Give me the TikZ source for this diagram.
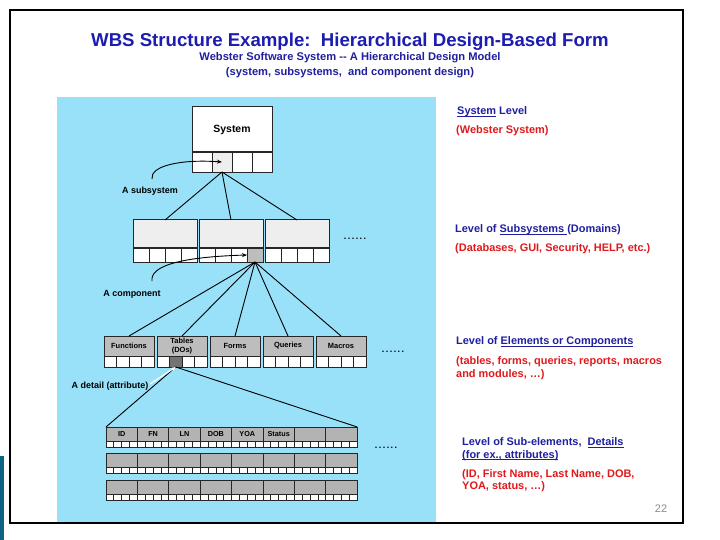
\documentclass[tikz,border=0pt]{standalone}
\usepackage{fontspec}
\setmainfont{Liberation Sans}
\usetikzlibrary{arrows.meta}
\definecolor{bgblue}{HTML}{99E1F9}
\definecolor{titleblue}{HTML}{1C1CB0}
\definecolor{headblue}{HTML}{1F1F9F}
\definecolor{headred}{HTML}{E0191C}
\definecolor{tealbar}{HTML}{0B6485}
\definecolor{subgray}{HTML}{EEEEEE}
\definecolor{compgray}{HTML}{BDBDBD}
\definecolor{detgray}{HTML}{B3B3B3}
\newcommand\ulx[1]{\leavevmode\setbox0\hbox{#1}\rlap{\rule[-1.8pt]{\wd0}{0.9pt}}\box0\relax}
\newcommand\wbsbox[8]{%
  \node[topbox,fill=#7,minimum width={(#4)*1bp},minimum height={(#5)*1bp}] (#1) at ({#2},{#3}) {#8};
  \foreach \k in {1,...,4}{
    \node[cellbox,minimum width={(#4)/4*1bp},minimum height={(#6)*1bp}] (#1-\k) at ({(#2)+(\k-1)*(#4)/4},{(#3)+(#5)}) {};
  }%
}
\begin{document}
\begin{tikzpicture}[x=1bp,y=-1bp,
  topbox/.style={draw=black!85,line width=1bp,anchor=north west,inner sep=0pt,outer sep=0pt,align=center,font=\bfseries\fontsize{7.5}{9}\selectfont},
  cellbox/.style={draw=black!85,line width=0.8bp,fill=white,anchor=north west,inner sep=0pt,outer sep=0pt},
  conn/.style={draw=black,line width=0.9bp},
  lab/.style={font=\bfseries\fontsize{9}{10}\selectfont,inner sep=0pt},
  dots/.style={font=\bfseries\fontsize{9}{10}\selectfont,inner sep=0pt},
  hblue/.style={text=headblue,font=\bfseries\fontsize{11}{12.5}\selectfont,anchor=west,inner sep=0pt,align=left},
  hred/.style={text=headred,font=\bfseries\fontsize{11}{12.5}\selectfont,anchor=west,inner sep=0pt,align=left},
  tiplike/.style={-{Stealth[length=5bp,width=4bp]}}
]
\useasboundingbox (0,0) rectangle (720,540);
\fill[white] (0,0) rectangle (720,540);
\fill[tealbar] (0,456) rectangle (4,540);
\fill[bgblue] (57,97) rectangle (436,523);
\draw[line width=2bp,black] (10,10) rectangle (683,523);

% titles
\node[text=titleblue,font=\bfseries\fontsize{18.7}{20}\selectfont,inner sep=0pt] (title) at (350,42) {WBS Structure Example:\ \ Hierarchical Design-Based Form};
\node[text=headblue,font=\bfseries\fontsize{11.2}{12}\selectfont,inner sep=0pt] (sub1) at (350,58) {Webster Software System -{}- A Hierarchical Design Model};
\node[text=headblue,font=\bfseries\fontsize{11.2}{12}\selectfont,inner sep=0pt] (sub2) at (350,73) {(system, subsystems,\ \ and component design)};

% system
\wbsbox{sys}{192}{107}{80}{45}{20}{white}{\fontsize{10.5}{12}\selectfont System}
\draw[cellbox,fill=subgray] (sys-2.north west) rectangle (sys-2.south east);

% subsystems
\wbsbox{ss1}{133}{220}{64}{28}{14}{subgray}{}
\wbsbox{ss2}{199}{220}{64}{28}{14}{subgray}{}
\wbsbox{ss3}{265}{220}{64}{28}{14}{subgray}{}
\draw[cellbox,fill=compgray] (ss2-4.north west) rectangle (ss2-4.south east);
\node[dots] (dots1) at (355,239) {.\,.\,.\,.\,.\,.};

% components
\wbsbox{c1}{104}{336}{50}{20}{11}{compgray}{Functions}
\wbsbox{c2}{157}{336}{50}{20}{11}{compgray}{Tables\\(DOs)}
\wbsbox{c3}{210}{336}{50}{20}{11}{compgray}{Forms}
\wbsbox{c4}{263}{336}{50}{20}{11}{compgray}{Queries}
\wbsbox{c5}{316}{336}{50}{20}{11}{compgray}{Macros}
\draw[cellbox,fill=black!55] (c2-2.north west) rectangle (c2-2.south east);
\node[dots] (dots2) at (393,352) {.\,.\,.\,.\,.\,.};

% details
\foreach \r/\yy in {1/427,2/453,3/480}{
  \foreach \c/\xx/\txt in {1/106/ID,2/137.4/FN,3/168.8/LN,4/200.2/DOB,5/231.6/YOA,6/263/Status,7/294.4/{},8/325.8/{}}{
    \ifnum\r=1
      \wbsbox{d\r-\c}{\xx}{\yy}{31.4}{14}{6.5}{detgray}{\fontsize{7.3}{8}\selectfont\txt}
    \else
      \wbsbox{d\r-\c}{\xx}{\yy}{31.4}{14}{6.5}{detgray}{}
    \fi
  }
}
\node[dots] (dots3) at (386,448) {.\,.\,.\,.\,.\,.};

% connectors
\draw[conn] (sys-2.south) -- (ss1.north);
\draw[conn] (sys-2.south) -- (ss2.north);
\draw[conn] (sys-2.south) -- (ss3.north);
\foreach \n in {c1,c2,c3,c4,c5}{\draw[conn] (ss2-4.south) -- (\n.north);}
\draw[conn] (c2-2.south) -- (d1-1.north west);
\draw[conn] (c2-2.south) -- (d1-8.north east);

% pointer labels
\node[lab] (lsub) at (150,191) {A subsystem};
\node[lab] (lcomp) at (132,294) {A component};
\node[lab] (ldet) at (110,386) {A detail (attribute)};
\coordinate (asub) at (152,179);
\coordinate (acomp) at (152,281);
\coordinate (adet) at (150,384);
\draw[conn,tiplike] (asub) .. controls (150,166) and (180,159) .. (sys-2.center);
\draw[conn,tiplike] (acomp) .. controls (150,266) and (180,257) .. (ss2-4.west);
\draw[white,line width=1.2bp,tiplike] (adet) -- (c2-2.south);

% right-hand descriptions
\node[hblue] (t1) at (457,112) {\ulx{System} Level};
\node[hred] (t2) at (456,131) {(Webster System)};
\node[hblue] (t3) at (455,230) {Level of \ulx{Subsystems }(Domains)};
\node[hred] (t4) at (455,249) {(Databases, GUI, Security, HELP, etc.)};
\node[hblue] (t5) at (456,342) {Level of \ulx{Elements or Components}};
\node[hred] (t6) at (456,368) {(tables, forms, queries, reports, macros\\and modules, \dots)};
\node[hblue] (t7) at (462,449) {Level of Sub-elements,\ \ \ulx{Details}\\\ulx{(for ex., attributes)}};
\node[hred] (t8) at (462,480.5) {(ID, First Name, Last Name, DOB,\\YOA, status, \dots)};
\node[text=black!45,font=\fontsize{11}{12}\selectfont,inner sep=0pt] (pg) at (661,509) {22};
\end{tikzpicture}
\end{document}
